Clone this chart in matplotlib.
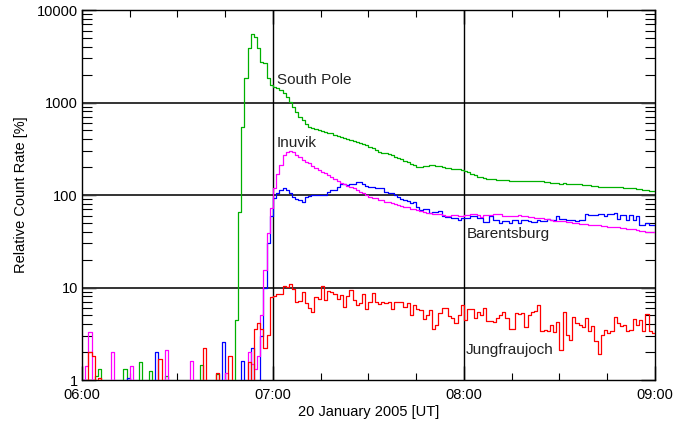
#!/usr/bin/env python3

import numpy as np
import matplotlib.pyplot as plt
from matplotlib.ticker import FixedLocator, LogLocator, NullFormatter, MultipleLocator

plt.rcParams['font.family'] = ['Liberation Sans', 'DejaVu Sans']

# one-minute count rates from 06:00 UT, in percent above background
# (0.5 = nothing measured, falls below the plotted range)
south_pole = [
    0.5, 0.5, 0.5, 0.5, 1.1, 1.3, 0.5, 0.5, 0.5, 0.5,
    0.5, 0.5, 0.5, 1.3, 0.5, 0.5, 0.5, 0.5, 1.55, 0.5,
    0.5, 1.25, 0.5, 0.5, 0.5, 0.5, 1.1, 0.5, 0.5, 0.5,
    0.5, 0.5, 0.5, 0.5, 0.5, 0.5, 0.5, 1.45, 0.5, 0.5,
    0.5, 0.5, 1.15, 0.5, 0.5, 0.5, 0.5, 0.5, 4.5, 65,
    548, 1820, 3900, 5460, 5130, 3920, 2760, 2650, 1820, 1545,
    1460, 1420, 1365, 1257, 1156, 1020, 902, 796, 703, 640,
    580, 550, 534, 515, 505, 495, 484, 470, 464, 445,
    430, 420, 410, 400, 393, 383, 377, 365, 355, 347,
    333, 320, 306, 294, 288, 282, 276, 270, 259, 249,
    243, 236, 228, 219, 210, 203, 199, 204, 208, 211,
    209, 206, 204, 200, 198, 194, 193, 191, 189, 187,
    184, 176, 169, 163, 158, 155, 152, 150, 149, 148,
    147, 146, 145, 144, 143, 143, 142, 143, 142, 141,
    142, 143, 142, 141, 140, 139, 138, 136, 134, 134,
    133, 134, 133, 132, 132, 131, 130, 129, 128, 127,
    126, 124, 123, 123, 122, 122, 121, 122, 121, 121,
    120, 119, 118, 118, 117, 116, 114, 113, 111, 110,
]

inuvik = [
    0.5, 1.43, 3.3, 0.5, 0.5, 0.5, 0.5, 0.5, 0.5, 2.0,
    0.5, 0.5, 0.5, 0.5, 0.5, 1.4, 0.5, 0.5, 0.5, 0.5,
    0.5, 0.5, 0.5, 0.5, 0.5, 0.5, 2.1, 0.5, 0.5, 0.5,
    0.5, 0.5, 0.5, 0.5, 1.6, 0.5, 0.5, 0.5, 0.5, 0.5,
    0.5, 0.5, 0.5, 0.5, 0.5, 1.2, 0.5, 0.5, 0.5, 0.5,
    0.5, 0.5, 2.0, 1.5, 1.3, 1.8, 5.0, 15.5, 38.5, 72,
    118, 168, 211, 270, 294, 302, 290, 271, 255, 239,
    230, 220, 207, 196, 186, 179, 172, 165, 156, 149,
    140, 134, 130, 126, 122, 118, 113, 108, 104, 100,
    95, 93, 92, 89, 88, 85, 84, 81, 80, 78,
    77, 75, 74, 71, 70, 68, 67, 65, 64, 64,
    63, 63, 63, 61, 60, 60, 61, 61, 60, 60,
    61, 61, 62, 62, 61, 58, 61, 61, 61, 62,
    62, 62, 59, 59, 59, 60, 60, 61, 60, 60,
    58, 58, 56, 56, 56, 55, 55, 54, 53, 53,
    52, 52, 51, 51, 50, 50, 49, 48, 48, 47,
    47, 47, 47, 46, 46, 45, 45, 45, 45, 44,
    44, 43, 43, 43, 42, 41, 41, 40, 40, 40,
]

barentsburg = [
    0.5, 0.5, 0.5, 0.5, 0.5, 0.5, 0.5, 0.5, 0.5, 0.5,
    0.5, 0.5, 0.5, 0.5, 1.05, 0.5, 0.5, 0.5, 0.5, 0.5,
    0.5, 0.5, 0.5, 2.0, 0.5, 0.5, 0.5, 0.5, 0.5, 0.5,
    0.5, 0.5, 0.5, 0.5, 0.5, 0.5, 0.5, 0.5, 0.5, 0.5,
    0.5, 0.5, 0.5, 0.5, 2.55, 0.5, 0.5, 0.5, 0.5, 0.5,
    1.6, 0.5, 0.5, 2.2, 0.5, 0.5, 3.0, 10, 30, 60,
    92, 104, 113, 118, 113, 104, 95, 90, 89, 85,
    95, 98, 101, 101, 100, 101, 101, 108, 113, 113,
    123, 131, 131, 128, 131, 133, 139, 139, 131, 125,
    121, 121, 118, 118, 118, 108, 104, 104, 100, 95,
    90, 89, 86, 82, 84, 75, 69, 70, 70, 64,
    66, 66, 67, 60, 58, 58, 56, 56, 54, 57,
    57, 57, 59, 59, 57, 57, 51.5, 51.5, 59, 53.5,
    53.5, 50, 52.5, 52.5, 50, 53.5, 53.5, 50, 54, 54,
    52, 51.5, 51.5, 54, 52, 52, 55, 53.5, 53.5, 59,
    55.5, 55.5, 54, 53.5, 53.5, 52, 54, 54, 62.5, 61,
    61, 61, 62.5, 62.5, 59, 62.5, 62.5, 64.5, 55.5, 61,
    61, 54, 61, 53.5, 59, 47.5, 47.5, 50, 47, 47,
]

jungfraujoch = [
    0.5, 0.5, 2.0, 1.8, 0.5, 1.05, 0.5, 0.5, 0.5, 0.5,
    0.5, 0.5, 0.5, 0.5, 0.5, 0.5, 0.5, 0.5, 0.5, 0.5,
    0.5, 0.5, 0.5, 0.5, 1.7, 0.5, 0.5, 0.5, 0.5, 0.5,
    0.5, 0.5, 0.5, 0.5, 0.5, 0.5, 0.5, 0.5, 2.2, 0.5,
    0.5, 0.5, 1.2, 0.5, 0.5, 0.5, 1.8, 0.5, 0.5, 0.5,
    0.5, 0.5, 1.55, 0.5, 3.6, 4.1, 3.6, 2.2, 3.1, 7.9,
    8.0, 8.6, 8.5, 10.4, 10.2, 10.9, 9.6, 6.9, 7.2, 9.0,
    6.75, 6.0, 5.5, 7.8, 7.6, 10.4, 7.3, 9.2, 8.9, 8.6,
    7.5, 8.3, 6.1, 8.0, 9.5, 7.4, 6.5, 6.75, 8.6, 5.8,
    7.0, 8.8, 6.9, 6.7, 6.9, 6.8, 7.0, 5.8, 7.0, 6.9,
    7.0, 6.1, 6.75, 5.1, 6.5, 5.8, 5.7, 4.6, 5.1, 5.7,
    3.6, 3.9, 5.3, 6.0, 6.0, 4.9, 4.7, 4.1, 5.1, 6.5,
    4.45, 5.9, 5.9, 4.7, 5.4, 5.1, 6.0, 4.3, 4.3, 4.2,
    4.65, 5.0, 5.5, 4.7, 3.6, 3.6, 5.3, 5.2, 5.3, 3.7,
    5.05, 5.5, 5.6, 6.5, 3.4, 3.45, 3.4, 3.9, 3.3, 4.2,
    2.1, 5.4, 3.1, 2.7, 4.85, 4.1, 3.9, 3.7, 4.65, 3.35,
    3.8, 2.65, 1.9, 3.1, 3.45, 3.2, 3.35, 4.85, 4.1, 3.8,
    3.9, 3.4, 3.5, 4.6, 3.9, 4.4, 3.4, 5.2, 3.35, 3.2,
]

tick_minutes = [0, 60, 120, 180]
tick_labels = ['06:00', '07:00', '08:00', '09:00']
y_ticks = [1, 10, 100, 1000, 10000]
y_tick_labels = ['1', '10', '100', '1000', '10000']

# station name, colour, label position (minutes, value)
stations = [
    ('South Pole', south_pole, '#00b000', (61.3, 1585)),
    ('Barentsburg', barentsburg, '#0000ff', (120.9, 34.3)),
    ('Inuvik', inuvik, '#ff00ff', (61.3, 333)),
    ('Jungfraujoch', jungfraujoch, '#ff0000', (120.6, 1.9)),
]


def main():
    fig = plt.figure(figsize=(6.73, 4.22), dpi=100)
    ax = fig.add_axes([0.1218, 0.0995, 0.8514, 0.8768])

    for name, vals, col, pos in stations:
        vals = np.asarray(vals, dtype=float)
        edges = np.arange(len(vals) + 1)
        ax.step(edges, np.append(vals, vals[-1]), where='post',
                color=col, lw=0.9, zorder=3)
        ax.text(pos[0], pos[1], name, fontsize=11, va='baseline',
                ha='left', color='#222222', zorder=4)

    for v in [10, 100, 1000]:
        ax.axhline(v, color='#333333', lw=1.4, zorder=2)
    for m in [60, 120]:
        ax.axvline(m, color='black', lw=1.0, zorder=2)

    ax.set_yscale('log')
    ax.set_ylim(1, 10000)
    ax.set_xlim(0, 180)

    ax.xaxis.set_major_locator(FixedLocator(tick_minutes))
    ax.set_xticklabels(tick_labels)
    ax.xaxis.set_minor_locator(MultipleLocator(15))
    ax.yaxis.set_major_locator(FixedLocator(y_ticks))
    ax.set_yticklabels(y_tick_labels)
    ax.yaxis.set_minor_locator(LogLocator(base=10, subs=np.arange(2, 10)))
    ax.yaxis.set_minor_formatter(NullFormatter())

    ax.tick_params(which='both', direction='in', top=True, right=True,
                   labelsize=10.5, colors='black')
    ax.tick_params(axis='y', which='major', length=10, width=1.0, pad=3)
    ax.tick_params(axis='y', which='minor', length=7, width=0.8)
    ax.tick_params(axis='x', which='major', length=10, width=1.0, pad=6)
    ax.tick_params(axis='x', which='minor', length=5, width=0.8)

    for s in ax.spines.values():
        s.set_linewidth(1.0)

    ax.set_ylabel('Relative Count Rate [%]', fontsize=10.5, labelpad=6)
    ax.set_xlabel('20 January 2005 [UT]', fontsize=10.5, labelpad=2)

    fig.savefig('out.png', dpi=100)


if __name__ == "__main__":
    main()
